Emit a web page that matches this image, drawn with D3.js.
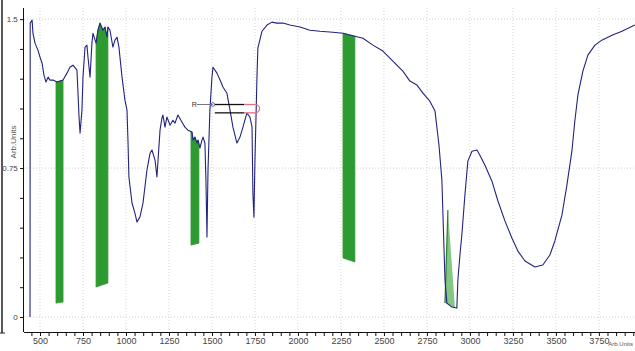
<!DOCTYPE html>
<html>
<head>
<meta charset="utf-8">
<script src="https://cdn.jsdelivr.net/npm/d3@7"></script>
<style>
  body { margin: 0; background: #fff; }
  svg { display: block; }
  .tick text { font-family: "Liberation Sans Narrow", "Liberation Sans", Arial, sans-serif; }
</style>
</head>
<body>
<div id="chart"></div>
<script>
// spectrum: wavenumber / Arb.Units
const wavenumbers = [442,443,454,459,471,488,500,512,523,535,547,558,576,599,616,634,657,674,692,715,721,727,733,744,750,762,773,779,791,802,808,826,837,849,866,878,890,895,907,924,936,948,959,977,994,1006,1012,1017,1035,1052,1064,1081,1099,1122,1140,1151,1169,1180,1198,1209,1215,1227,1238,1256,1273,1285,1302,1326,1343,1360,1384,1390,1401,1413,1419,1430,1442,1448,1459,1465,1471,1477,1488,1500,1506,1529,1547,1564,1587,1605,1622,1645,1663,1680,1703,1721,1733,1738,1744,1750,1756,1762,1767,1791,1820,1849,1878,1913,1953,2012,2070,2128,2203,2262,2331,2378,2436,2494,2552,2610,2651,2692,2727,2767,2797,2820,2837,2843,2849,2855,2866,2895,2924,2930,2942,2953,2971,2988,3012,3041,3058,3087,3128,3163,3204,3244,3279,3320,3378,3424,3465,3494,3535,3564,3593,3610,3628,3657,3686,3727,3767,3826,3884,3959];
const absorb = [0,1.48,1.495,1.429,1.379,1.344,1.309,1.278,1.218,1.183,1.208,1.193,1.193,1.183,1.188,1.193,1.228,1.258,1.268,1.243,1.127,1.007,0.926,1.042,1.208,1.359,1.369,1.309,1.208,1.379,1.429,1.379,1.444,1.48,1.444,1.46,1.409,1.46,1.444,1.359,1.394,1.409,1.359,1.208,1.092,1.042,0.876,0.705,0.574,0.523,0.478,0.503,0.574,0.74,0.825,0.841,0.79,0.705,0.941,1.002,1.017,0.956,1.007,0.966,0.991,0.976,1.017,0.981,0.956,0.941,0.931,0.891,0.906,0.876,0.891,0.851,0.891,0.906,0.876,0.69,0.403,0.74,1.042,1.208,1.258,1.228,1.193,1.158,1.127,1.042,0.956,0.876,0.906,0.956,1.027,1.007,0.956,0.624,0.503,0.79,1.002,1.218,1.354,1.439,1.47,1.485,1.48,1.48,1.47,1.46,1.444,1.439,1.434,1.429,1.414,1.404,1.369,1.339,1.288,1.238,1.188,1.168,1.127,1.087,1.037,0.866,0.69,0.523,0.352,0.186,0.07,0.05,0.045,0.186,0.312,0.413,0.614,0.785,0.835,0.841,0.815,0.765,0.684,0.584,0.483,0.398,0.332,0.282,0.252,0.262,0.312,0.383,0.513,0.664,0.835,0.986,1.118,1.238,1.319,1.369,1.394,1.419,1.439,1.47];

// integrated regions: start, end, baseline at start and end
const bandFrom = [593, 826, 1378, 2262];
const bandTo   = [634, 895, 1424, 2331];
const baseFrom = [0.070, 0.151, 0.362, 0.297];
const baseTo   = [0.075, 0.171, 0.372, 0.277];

// the light green peak region (wavenumber, value)
const peakWn  = [2872, 2855, 2913];
const peakVal = [0.539, 0.070, 0.045];

const xTicks = d3.range(500, 3751, 250);
const xMinor = d3.range(450, 3951, 50);
const yTicks = d3.range(0, 1.51, 0.15);
const yLabels = [0, 0.75, 1.5];

const W = 635, H = 351;

const x = d3.scaleLinear().domain([407, 3960]).range([24, 635]);
const y = d3.scaleLinear().domain([-0.0755, 1.556]).range([332, 8]);

const svg = d3.select("#chart").append("svg")
  .attr("width", W).attr("height", H);

// left frame edge of the window
svg.append("line").attr("x1", 2).attr("x2", 2).attr("y1", 0).attr("y2", 333)
  .attr("stroke", "#222").attr("stroke-width", 1.5);
svg.append("line").attr("x1", 0).attr("x2", 5).attr("y1", 333).attr("y2", 333)
  .attr("stroke", "#222").attr("stroke-width", 1);

// grid
svg.append("g").selectAll("line").data(xTicks).join("line")
  .attr("x1", d => x(d)).attr("x2", d => x(d))
  .attr("y1", 8).attr("y2", 332)
  .attr("stroke", "#d6d6d6").attr("stroke-dasharray", "1,2");
svg.append("g").selectAll("line").data(yLabels).join("line")
  .attr("x1", 24).attr("x2", 635)
  .attr("y1", d => y(d)).attr("y2", d => y(d))
  .attr("stroke", "#cfcfcf").attr("stroke-dasharray", "1,2");

// bands
const pts = wavenumbers.map((w, i) => [w, absorb[i]]);
function valAt(w) {
  const i = d3.bisector(d => d[0]).left(pts, w);
  if (i <= 0) return pts[0][1];
  if (i >= pts.length) return pts[pts.length - 1][1];
  const a = pts[i - 1], b = pts[i];
  return a[1] + (b[1] - a[1]) * (w - a[0]) / (b[0] - a[0]);
}
const line = d3.line().x(d => x(d[0])).y(d => y(d[1]));

bandFrom.forEach((f, i) => {
  const t = bandTo[i];
  const top = [[f, valAt(f)]].concat(pts.filter(p => p[0] > f && p[0] < t), [[t, valAt(t)]]);
  const poly = top.concat([[t, baseTo[i]], [f, baseFrom[i]]]);
  svg.append("path")
    .attr("d", line(poly) + "Z")
    .attr("fill", "#2e9a32")
    .attr("stroke", "#2e9a32")
    .attr("stroke-width", 0.8);
});

const peakPoly = peakWn.map((w, i) => [w, peakVal[i]]);
svg.append("path")
  .attr("d", line(peakPoly) + "Z")
  .attr("fill", "#84c684")
  .attr("stroke", "none");
svg.append("path")
  .attr("d", line([peakPoly[0], peakPoly[1]]))
  .attr("stroke", "#2b7d2e").attr("stroke-width", 1.2).attr("fill", "none");

// spectrum
svg.append("path")
  .attr("d", line(pts))
  .attr("fill", "none")
  .attr("stroke", "#23237f")
  .attr("stroke-width", 1.1)
  .attr("stroke-linejoin", "round");

// marker R
const mk = { label: 1382, start: 1505, end: 1770, val: 1.07, gap: 0.042, redFrom: 1688 };
svg.append("text").attr("x", x(mk.label)).attr("y", y(mk.val) + 2.5)
  .attr("font-family", "Liberation Sans, sans-serif").attr("font-size", 7).attr("fill", "#333").text("R");
svg.append("line").attr("x1", x(mk.label) + 5).attr("x2", x(mk.start))
  .attr("y1", y(mk.val)).attr("y2", y(mk.val)).attr("stroke", "#777").attr("stroke-width", 1);
svg.append("circle").attr("cx", x(mk.start)).attr("cy", y(mk.val)).attr("r", 1.8)
  .attr("fill", "none").attr("stroke", "#5560b0");
[mk.val, mk.val - mk.gap].forEach(v => {
  svg.append("line").attr("x1", x(mk.start) + 2).attr("x2", x(mk.redFrom))
    .attr("y1", y(v)).attr("y2", y(v)).attr("stroke", "#111").attr("stroke-width", 1.3);
  svg.append("line").attr("x1", x(mk.redFrom)).attr("x2", x(mk.end) - 3)
    .attr("y1", y(v)).attr("y2", y(v)).attr("stroke", "#e0707a").attr("stroke-width", 1.3);
});
svg.append("path")
  .attr("d", `M${x(mk.end) - 3},${y(mk.val)} A4,4 0 0 1 ${x(mk.end) - 3},${y(mk.val - mk.gap)}`)
  .attr("fill", "none").attr("stroke", "#e0707a").attr("stroke-width", 1.2);

// axes
const xAxis = svg.append("g").attr("transform", "translate(0,332)")
  .call(d3.axisBottom(x).tickValues(xMinor).tickSize(4)
    .tickFormat(d => xTicks.includes(d) ? d : ""));
xAxis.select(".domain").attr("d", "M24,0.5H635").attr("stroke", "#111");
xAxis.selectAll(".tick line").attr("stroke", "#111");
xAxis.selectAll(".tick text").attr("font-size", 9).attr("fill", "#444").attr("dy", "0.55em");

const yAxis = svg.append("g").attr("transform", "translate(24,0)")
  .call(d3.axisLeft(y).tickValues(yTicks).tickSize(4)
    .tickFormat(d => yLabels.some(v => Math.abs(v - d) < 1e-6) ? d3.format("")(+d.toFixed(2)) : ""));
yAxis.select(".domain").attr("d", "M-0.5,8V332").attr("stroke", "#111");
yAxis.selectAll(".tick line").attr("stroke", "#111");
yAxis.selectAll(".tick text").attr("font-size", 8).attr("fill", "#444").attr("dx", "0.1em");

svg.append("text")
  .attr("transform", "translate(16,142) rotate(-90)")
  .attr("text-anchor", "middle")
  .attr("font-family", "Liberation Sans Narrow, Liberation Sans, sans-serif")
  .attr("font-size", 8).attr("fill", "#555").text("Arb.Units");
svg.append("text")
  .attr("x", 633).attr("y", 346)
  .attr("text-anchor", "end")
  .attr("font-family", "Liberation Sans Narrow, Liberation Sans, sans-serif")
  .attr("font-size", 6).attr("fill", "#555")
  .text("Arb.Units");
</script>
</body>
</html>
